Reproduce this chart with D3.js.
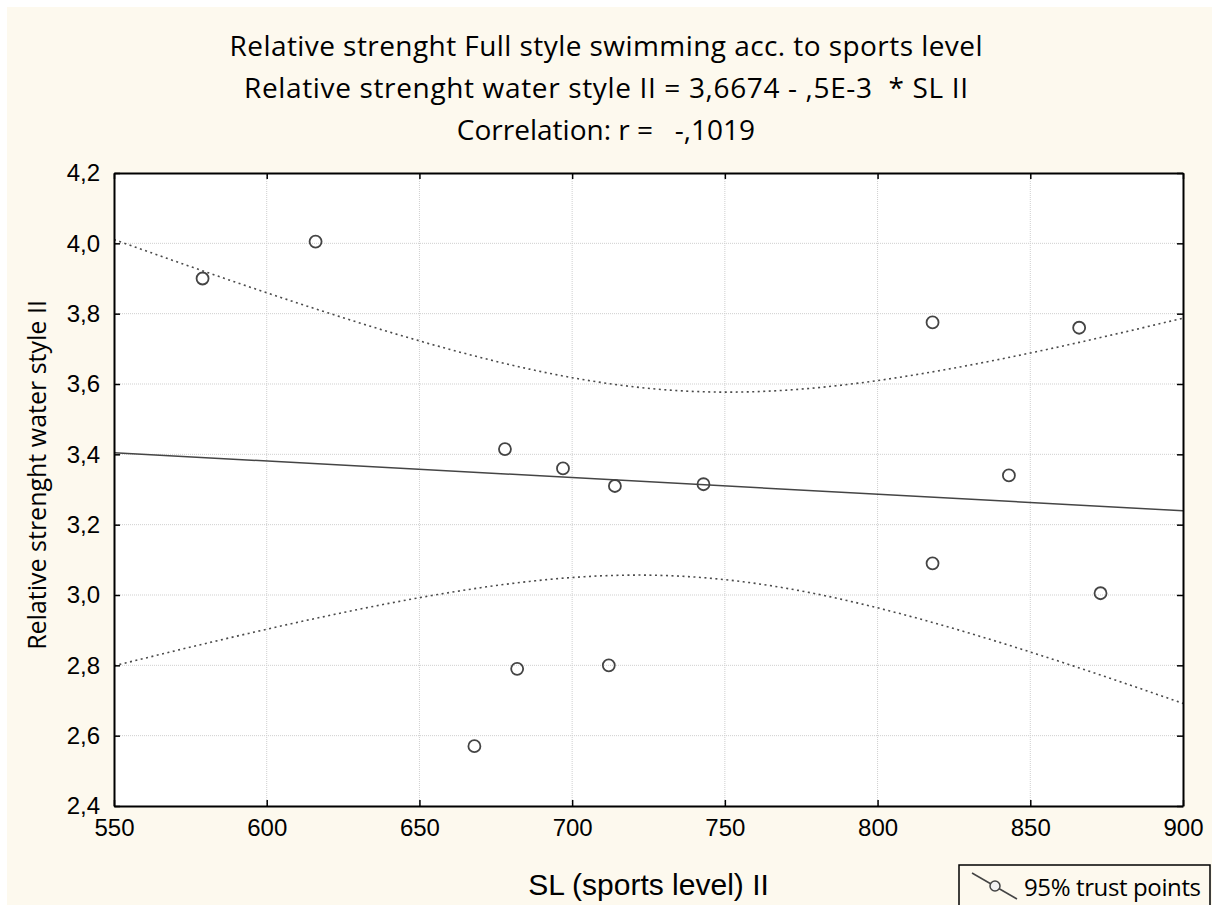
<!DOCTYPE html>
<html>
<head>
<meta charset="utf-8">
<script src="https://cdn.jsdelivr.net/npm/d3@7"></script>
<style>
  body { margin: 0; background: #ffffff; }
  text { white-space: pre; }
</style>
</head>
<body>
<div id="chart"></div>
<script>
// sports level (x) and relative strength water style (y)
var slLevel  = [579, 616, 678, 697, 714, 743, 818, 866, 843, 818, 873, 682, 712, 668];
var strength = [3.90, 4.005, 3.415, 3.36, 3.31, 3.315, 3.775, 3.76, 3.34, 3.09, 3.005, 2.79, 2.80, 2.57];

var xTicks = [550, 600, 650, 700, 750, 800, 850, 900];
var yTicks = [2.4, 2.6, 2.8, 3.0, 3.2, 3.4, 3.6, 3.8, 4.0, 4.2];

var titleLines = [
  "Relative strenght Full style swimming acc. to sports level",
  "Relative strenght water style II = 3,6674 - ,5E-3  * SL II",
  "Correlation: r =   -,1019"
];
var titleWidths = [753, 724, null];
var xTitle = "SL (sports level) II";
var yTitle = "Relative strenght water style II";
var legendLabel = "95% trust points";

var W = 1212, H = 905;
var plot = { left: 114, top: 173, right: 1183, bottom: 806 };

var svg = d3.select("#chart")
  .append("svg")
    .attr("width", W)
    .attr("height", H);

svg.append("rect")
  .attr("x", 7)
  .attr("y", 7)
  .attr("width", W - 7)
  .attr("height", H - 7)
  .attr("fill", "#fdf9ee");

var x = d3.scaleLinear().domain([550, 900]).range([plot.left, plot.right]);
var y = d3.scaleLinear().domain([2.4, 4.2]).range([plot.bottom, plot.top]);

svg.append("rect")
  .attr("x", plot.left)
  .attr("y", plot.top)
  .attr("width", plot.right - plot.left)
  .attr("height", plot.bottom - plot.top)
  .attr("fill", "#ffffff");

// grid
svg.append("g").selectAll("line")
  .data(xTicks.slice(1, -1))
  .join("line")
    .attr("x1", d => x(d)).attr("x2", d => x(d))
    .attr("y1", plot.top).attr("y2", plot.bottom)
    .attr("stroke", "#cfcfcf")
    .attr("stroke-width", 1)
    .attr("stroke-dasharray", "1,1");

svg.append("g").selectAll("line")
  .data(yTicks.slice(1, -1))
  .join("line")
    .attr("x1", plot.left).attr("x2", plot.right)
    .attr("y1", d => y(d)).attr("y2", d => y(d))
    .attr("stroke", "#cfcfcf")
    .attr("stroke-width", 1)
    .attr("stroke-dasharray", "1,1");

// linear fit and 95% confidence band
var n = slLevel.length;
var mx = d3.mean(slLevel), my = d3.mean(strength);
var sxx = d3.sum(slLevel, d => (d - mx) * (d - mx));
var sxy = d3.sum(slLevel, (d, i) => (d - mx) * (strength[i] - my));
var slope = sxy / sxx;
var icpt = my - slope * mx;
var sse = d3.sum(slLevel, (d, i) => Math.pow(strength[i] - (icpt + slope * d), 2));
var s = Math.sqrt(sse / (n - 2));
var tCrit = 2.1788; // t(0.975, 12 df)

var xs = d3.range(550, 900.1, 2);
function band(sign) {
  return xs.map(function (v) {
    var h = tCrit * s * Math.sqrt(1 / n + (v - mx) * (v - mx) / sxx);
    return [v, icpt + slope * v + sign * h];
  });
}

svg.append("clipPath").attr("id", "clip")
  .append("rect")
    .attr("x", plot.left).attr("y", plot.top)
    .attr("width", plot.right - plot.left)
    .attr("height", plot.bottom - plot.top);

var g = svg.append("g").attr("clip-path", "url(#clip)");

var line = d3.line().x(d => x(d[0])).y(d => y(d[1]));

g.append("path")
  .attr("d", line([[550, icpt + slope * 550], [900, icpt + slope * 900]]))
  .attr("fill", "none")
  .attr("stroke", "#454545")
  .attr("stroke-width", 1.5);

[1, -1].forEach(function (sg) {
  g.append("path")
    .attr("d", line(band(sg)))
    .attr("fill", "none")
    .attr("stroke", "#4a4a4a")
    .attr("stroke-width", 1.6)
    .attr("stroke-dasharray", "2,3.5");
});

g.selectAll("circle")
  .data(slLevel)
  .join("circle")
    .attr("cx", d => x(d))
    .attr("cy", (d, i) => y(strength[i]))
    .attr("r", 6)
    .attr("fill", "none")
    .attr("stroke", "#444444")
    .attr("stroke-width", 1.8);

// frame and ticks
var fmt = d => d3.format(".1f")(d).replace(".", ",");

var axB = svg.append("g")
  .attr("transform", "translate(0," + plot.bottom + ")")
  .call(d3.axisBottom(x).tickValues(xTicks).tickSizeInner(-6).tickSizeOuter(0).tickPadding(14));
var axL = svg.append("g")
  .attr("transform", "translate(" + plot.left + ",0)")
  .call(d3.axisLeft(y).tickValues(yTicks).tickFormat(fmt).tickSizeInner(-6).tickSizeOuter(0).tickPadding(14));
var axT = svg.append("g")
  .attr("transform", "translate(0," + plot.top + ")")
  .call(d3.axisTop(x).tickValues(xTicks).tickSizeInner(-6).tickSizeOuter(0).tickFormat(""));
var axR = svg.append("g")
  .attr("transform", "translate(" + plot.right + ",0)")
  .call(d3.axisRight(y).tickValues(yTicks).tickSizeInner(-6).tickSizeOuter(0).tickFormat(""));

[axB, axL, axT, axR].forEach(function (a) {
  a.select(".domain").attr("stroke", "#000").attr("stroke-width", 2);
  a.selectAll(".tick line").attr("stroke", "#000").attr("stroke-width", 1.5);
  a.selectAll(".tick text")
    .attr("font-family", "Liberation Sans, Arial, sans-serif")
    .attr("font-size", 24)
    .attr("fill", "#000");
});
axB.selectAll(".tick text").attr("dy", "0.71em").attr("y", 13);
axL.selectAll(".tick text").attr("x", -14);

// titles
svg.append("g").selectAll("text")
  .data(titleLines)
  .join("text")
    .attr("x", 606)
    .attr("y", (d, i) => 56 + i * 42)
    .attr("text-anchor", "middle")
    .attr("font-family", "Open Sans, Noto Sans, sans-serif")
    .attr("font-size", 28)
    .attr("fill", "#000")
    .each(function (d, i) {
      if (titleWidths[i]) d3.select(this).attr("textLength", titleWidths[i]).attr("lengthAdjust", "spacing");
    })
    .text(d => d);

svg.append("text")
  .attr("x", (plot.left + plot.right) / 2)
  .attr("y", 895)
  .attr("text-anchor", "middle")
  .attr("font-family", "Liberation Sans, Arial, sans-serif")
  .attr("font-size", 30)
  .attr("fill", "#000")
  .text(xTitle);

svg.append("text")
  .attr("transform", "translate(46,475) rotate(-90)")
  .attr("text-anchor", "middle")
  .attr("font-family", "Open Sans, Noto Sans, sans-serif")
  .attr("font-size", 25)
  .attr("fill", "#000")
  .text(yTitle);

// legend
var lg = svg.append("g");
lg.append("rect")
  .attr("x", 959).attr("y", 865)
  .attr("width", 251).attr("height", 60)
  .attr("fill", "#fdf9ee")
  .attr("stroke", "#000")
  .attr("stroke-width", 1.5);
lg.append("line")
  .attr("x1", 972).attr("y1", 873)
  .attr("x2", 1017).attr("y2", 899)
  .attr("stroke", "#444")
  .attr("stroke-width", 1.5);
lg.append("circle")
  .attr("cx", 995).attr("cy", 886)
  .attr("r", 5)
  .attr("fill", "#f2f2f2")
  .attr("stroke", "#444")
  .attr("stroke-width", 1.5);
lg.append("text")
  .attr("x", 1024).attr("y", 896)
  .attr("font-family", "Open Sans, Noto Sans, sans-serif")
  .attr("font-size", 24)
  .attr("textLength", 177)
  .attr("lengthAdjust", "spacing")
  .attr("fill", "#000")
  .text(legendLabel);
</script>
</body>
</html>
